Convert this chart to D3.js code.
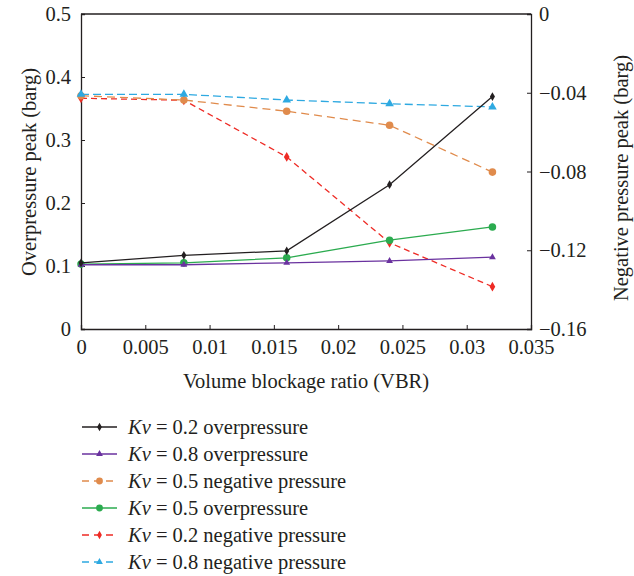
<!DOCTYPE html>
<html>
<head>
<meta charset="utf-8">
<script src="https://cdn.jsdelivr.net/npm/d3@7"></script>
<style>
  body { margin: 0; background: #fff; }
  svg text { font-family: "Liberation Serif", "Times New Roman", Times, serif; fill: #231f20; }
</style>
</head>
<body>
<div id="chart"></div>
<script>
let vbr = [0, 0.008, 0.016, 0.024, 0.032];

// overpressure (left axis)
let over02 = [0.105, 0.117, 0.124, 0.229, 0.369];
let over08 = [0.102, 0.102, 0.105, 0.108, 0.114];
let over05 = [0.103, 0.105, 0.113, 0.141, 0.162];

// negative pressure (right axis)
let neg05 = [-0.0415, -0.0437, -0.0494, -0.0565, -0.0803];
let neg02 = [-0.0428, -0.0438, -0.0726, -0.1162, -0.1385];
let neg08 = [-0.0408, -0.0408, -0.0437, -0.0456, -0.0472];

let xTicks = [0, 0.005, 0.01, 0.015, 0.02, 0.025, 0.03, 0.035];
let yLeftTicks = [0, 0.1, 0.2, 0.3, 0.4, 0.5];
let yRightTicks = [0, -0.04, -0.08, -0.12, -0.16];

let w = 634, h = 576;
let mLeft = 81, mRight = 531, mTop = 14, mBottom = 329;
let fontFam = "'Liberation Serif', 'Times New Roman', Times, serif";

let svg = d3.select("#chart").append("svg")
  .attr("width", w).attr("height", h)
  .style("font-family", fontFam);

let x = d3.scaleLinear().domain([0, 0.035]).range([mLeft, mRight]);
let yL = d3.scaleLinear().domain([0, 0.5]).range([mBottom, mTop]);
let yR = d3.scaleLinear().domain([-0.16, 0]).range([mBottom, mTop]);

function fmt(d) {
  return d < 0 ? "\u2212" + String(Math.abs(d)) : String(d);
}

// frame top line
svg.append("line")
  .attr("x1", mLeft).attr("x2", mRight).attr("y1", mTop).attr("y2", mTop)
  .attr("stroke", "#231f20").attr("stroke-width", 1.3);

let gx = svg.append("g").attr("transform", "translate(0," + mBottom + ")")
  .call(d3.axisBottom(x).tickValues(xTicks).tickSize(-4).tickPadding(8).tickFormat(d => String(d)));
let gl = svg.append("g").attr("transform", "translate(" + mLeft + ",0)")
  .call(d3.axisLeft(yL).tickValues(yLeftTicks).tickSize(-4).tickPadding(10).tickFormat(d => String(d)));
let gr = svg.append("g").attr("transform", "translate(" + mRight + ",0)")
  .call(d3.axisRight(yR).tickValues(yRightTicks).tickSize(-4).tickPadding(8).tickFormat(fmt));

[gx, gl, gr].forEach(g => {
  g.attr("font-family", null).attr("font-size", null);
  g.select(".domain").attr("stroke", "#231f20").attr("stroke-width", 1.3);
  g.selectAll(".tick line").attr("stroke", "#231f20");
  g.selectAll(".tick text").style("font-size", "20.5px").style("font-family", fontFam)
    .attr("fill", "#231f20");
});
gx.selectAll(".tick text").attr("dy", "0.85em");

// axis titles
svg.append("text")
  .attr("x", 306).attr("y", 388).attr("text-anchor", "middle")
  .style("font-size", "20.5px").text("Volume blockage ratio (VBR)");
svg.append("text")
  .attr("transform", "translate(29," + 172 + ") rotate(-90)")
  .attr("text-anchor", "middle").attr("dy", "0.35em")
  .style("font-size", "20.5px").text("Overpressure peak (barg)");
svg.append("text")
  .attr("transform", "translate(621," + 178 + ") rotate(-90)")
  .attr("text-anchor", "middle").attr("dy", "0.35em")
  .style("font-size", "20.5px").text("Negative pressure peak (barg)");

let series = [
  { name: "0.2 overpressure", data: over02, y: yL, color: "#231f20", dash: null, marker: "diamond", size: 22 },
  { name: "0.8 overpressure", data: over08, y: yL, color: "#6a329f", dash: null, marker: "triangle", size: 20 },
  { name: "0.5 negative pressure", data: neg05, y: yR, color: "#e08b4c", dash: "8,5", marker: "circle", size: 45 },
  { name: "0.5 overpressure", data: over05, y: yL, color: "#2bab4f", dash: null, marker: "circle", size: 45 },
  { name: "0.2 negative pressure", data: neg02, y: yR, color: "#ee2b25", dash: "6,4", marker: "diamond", size: 28 },
  { name: "0.8 negative pressure", data: neg08, y: yR, color: "#2ea9e1", dash: "8,4", marker: "triangle", size: 32 }
];

let symbols = { diamond: d3.symbolDiamond, triangle: d3.symbolTriangle, circle: d3.symbolCircle };

// draw in an order where black sits on top
let drawOrder = [4, 2, 5, 3, 1, 0];
drawOrder.forEach(k => {
  let s = series[k];
  let line = d3.line().x((d, i) => x(vbr[i])).y(d => s.y(d));
  svg.append("path")
    .datum(s.data)
    .attr("d", line)
    .attr("fill", "none")
    .attr("stroke", s.color)
    .attr("stroke-width", 1.3)
    .attr("stroke-dasharray", s.dash);
  svg.selectAll(null)
    .data(s.data)
    .enter()
    .append("path")
    .attr("d", d3.symbol().type(symbols[s.marker]).size(s.size))
    .attr("transform", (d, i) => "translate(" + x(vbr[i]) + "," + s.y(d) + ")")
    .attr("fill", s.color);
});

// legend
let lg = svg.append("g");
series.forEach((s, i) => {
  let yy = 427 + i * 27;
  lg.append("line")
    .attr("x1", 82).attr("x2", 117).attr("y1", yy).attr("y2", yy)
    .attr("stroke", s.color).attr("stroke-width", 1.3)
    .attr("stroke-dasharray", s.dash ? "7,5" : null);
  lg.append("path")
    .attr("d", d3.symbol().type(symbols[s.marker]).size(s.marker === "circle" ? 36 : 20))
    .attr("transform", "translate(99.5," + yy + ")")
    .attr("fill", s.color);
  let t = lg.append("text")
    .attr("x", 128).attr("y", yy).attr("dy", "0.33em")
    .style("font-size", "20.5px");
  t.append("tspan").style("font-style", "italic").text("Kv");
  t.append("tspan").text(" = " + s.name);
});
</script>
</body>
</html>
